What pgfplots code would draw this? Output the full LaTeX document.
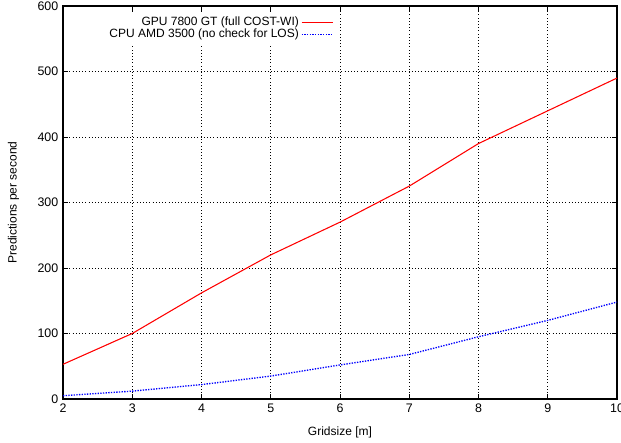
\documentclass[border=0pt]{standalone}
\usepackage{fontspec}
\setmainfont{Liberation Sans}
\usepackage{pgfplots}
\pgfplotsset{compat=1.18}

\begin{document}
\begin{tikzpicture}
\begin{axis}[
  name=main,
  scale only axis, width=415.5pt, height=294.75pt,
  xmin=2, xmax=10, ymin=0, ymax=600,
  xtick={2,3,4,5,6,7,8,9,10},
  ytick={0,100,200,300,400,500,600},
  tick align=inside, tick pos=both,
  major tick length=4pt,
  minor x tick num=0,
  grid=major, grid style={black, dotted, line width=0.5pt},
  axis line style={black, line width=0.8pt},
  tick style={black, line width=0.6pt},
  ticklabel style={font=\fontsize{9.3}{10}\selectfont},
  /pgf/number format/assume math mode=true,
  xlabel={Gridsize [m]},
  ylabel={Predictions per second},
  label style={font=\fontsize{9}{10}\selectfont},
  xlabel style={yshift=-4pt},
  ylabel style={yshift=7pt},
  legend style={at={(0.497,0.985)}, anchor=north east, draw=none, fill=white,
    font=\fontsize{9}{10}\selectfont, row sep=-2pt,
    nodes={inner sep=1.5pt}},
  legend cell align=right,
  legend plot pos=right,
  legend image post style={xscale=1.4},
]
\addplot[red, line width=0.8pt] coordinates
  {(2,53)(3,100)(4,162)(5,220)(6,270)(7,325)(8,390)(9,440)(10,490)};
\addplot[blue, line width=1pt, densely dotted] coordinates
  {(2,5)(3,12)(4,22)(5,35)(6,52)(7,68)(8,95)(9,120)(10,148)};
\legend{GPU 7800 GT (full COST-WI), CPU AMD 3500 (no check for LOS)}
\end{axis}
\pgfresetboundingbox
\path[use as bounding box] ([xshift=-47.25pt,yshift=-33pt]main.south west)
  rectangle ([xshift=3pt,yshift=4.5pt]main.north east);
\end{tikzpicture}
\end{document}
